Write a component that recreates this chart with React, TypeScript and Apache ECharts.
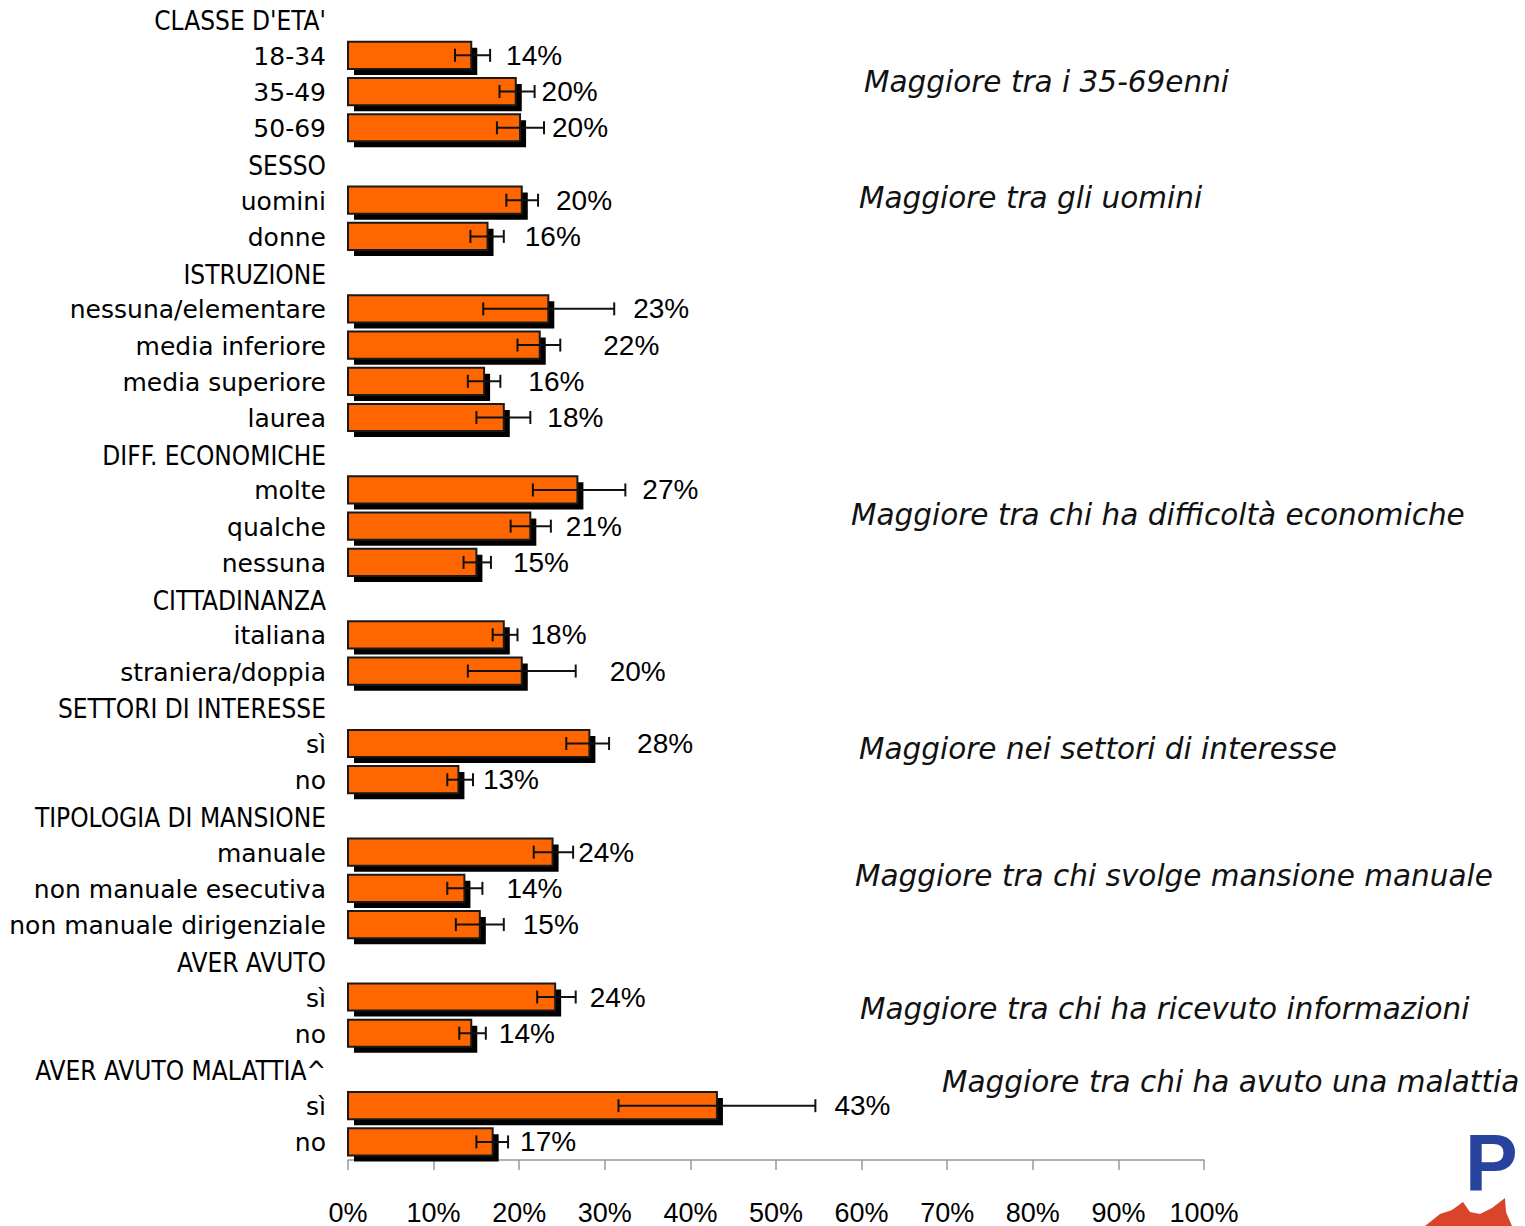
import React, { useEffect, useRef } from "react";
import * as echarts from "echarts";

const categories = [
  "CLASSE D'ETA'", "18-34", "35-49", "50-69",
  "SESSO", "uomini", "donne",
  "ISTRUZIONE", "nessuna/elementare", "media inferiore", "media superiore", "laurea",
  "DIFF. ECONOMICHE", "molte", "qualche", "nessuna",
  "CITTADINANZA", "italiana", "straniera/doppia",
  "SETTORI DI INTERESSE", "sì", "no",
  "TIPOLOGIA DI MANSIONE", "manuale", "non manuale esecutiva", "non manuale dirigenziale",
  "AVER AVUTO", "sì", "no",
  "AVER AVUTO MALATTIA^", "sì", "no",
];

const values = [null, 14.4, 19.6, 20.1, null, 20.3, 16.3, null, 23.4, 22.4, 15.9, 18.2, null, 26.8, 21.3, 15.0, null, 18.2, 20.3, null, 28.2, 12.9, null, 23.9, 13.6, 15.4, null, 24.2, 14.4, null, 43.1, 16.9];
const lows = [null, 12.5, 17.7, 17.4, null, 18.5, 14.3, null, 15.8, 19.8, 14.0, 15.0, null, 21.6, 19.0, 13.5, null, 16.9, 14.0, null, 25.5, 11.6, null, 21.7, 11.6, 12.6, null, 22.1, 13.0, null, 31.6, 15.0];
const highs = [null, 16.6, 21.8, 22.9, null, 22.2, 18.2, null, 31.1, 24.8, 17.8, 21.3, null, 32.4, 23.7, 16.7, null, 19.8, 26.6, null, 30.5, 14.6, null, 26.3, 15.7, 18.2, null, 26.6, 16.1, null, 54.6, 18.7];

const xTicks = { min: 0, max: 100, interval: 10 };

const annotations = [
  { text: "Maggiore tra i 35-69enni", x: 864, y: 82 },
  { text: "Maggiore tra gli uomini", x: 859, y: 198 },
  { text: "Maggiore tra chi ha difficoltà economiche", x: 851, y: 515 },
  { text: "Maggiore nei settori di interesse", x: 859, y: 749 },
  { text: "Maggiore tra chi svolge mansione manuale", x: 855, y: 876 },
  { text: "Maggiore tra chi ha ricevuto informazioni", x: 860, y: 1009 },
  { text: "Maggiore tra chi ha avuto una malattia", x: 942, y: 1082 },
];

// label horizontal nudges (px) after the error-bar end (style only)
const labelDx = [0, 16, 7, 8, 0, 18, 21, 0, 19, 43, 28, 17, 0, 17, 15, 22, 0, 13, 34, 0, 28, 10, 0, 5, 24, 19, 0, 14, 13, 0, 19, 12];

export default function App() {
  const ref = useRef<HTMLDivElement>(null);
  useEffect(() => {
    if (!ref.current) return;
    const chart = echarts.init(ref.current, null, { renderer: "svg" });
    const data: any[] = [];
    values.forEach((v, i) => {
      if (v !== null) data.push([i, v, lows[i], highs[i], labelDx[i]]);
    });
    const option: any = {
      animation: false,
      backgroundColor: "#ffffff",
      grid: { left: 348, right: 321, top: 1, height: 1159, containLabel: false },
      xAxis: {
        type: "value",
        min: xTicks.min,
        max: xTicks.max,
        interval: xTicks.interval,
        splitLine: { show: false },
        axisLine: { show: true, lineStyle: { color: "#999999", width: 1.5 } },
        axisTick: { show: true, length: 10, lineStyle: { color: "#999999", width: 1.5 } },
        axisLabel: {
          formatter: "{value}%",
          margin: 39,
          color: "#000000",
          fontFamily: "Liberation Sans",
          fontSize: 27,
        },
      },
      yAxis: {
        type: "category",
        inverse: true,
        data: categories.map((_, i) => "r" + i),
        axisLine: { show: false },
        axisTick: { show: false },
        splitLine: { show: false },
        axisLabel: {
          interval: 0,
          margin: 22,
          color: "#000000",
          formatter: (_v: string, idx: number) =>
            values[idx] === null ? `{h|${categories[idx]}}` : `{i|${categories[idx]}}`,
          rich: {
            h: { fontFamily: "'Liberation Sans Narrow', 'DejaVu Sans Condensed', 'Liberation Sans'", fontSize: 26, color: "#000", padding: [4, 0, 0, 0] },
            i: { fontFamily: "'DejaVu Sans'", fontSize: 25, color: "#000", padding: [2, 0, 0, 0] },
          },
        },
      },
      series: [
        {
          type: "custom",
          encode: { x: 1, y: 0 },
          data,
          renderItem: (params: any, api: any) => {
            const yi = api.value(0);
            const v = api.value(1);
            const lo = api.value(2);
            const hi = api.value(3);
            const dx = api.value(4);
            const s = api.coord([0, yi]);
            const e = api.coord([v, yi]);
            const pLo = api.coord([lo, yi]);
            const pHi = api.coord([hi, yi]);
            const band = api.size([0, 1])[1];
            const h = band * 0.75;
            const cy = s[1];
            const capH = 13;
            return {
              type: "group",
              children: [
                {
                  type: "rect",
                  shape: { x: s[0] + 6, y: cy - h / 2 + 6, width: e[0] - s[0], height: h },
                  style: { fill: "#000000" },
                },
                {
                  type: "rect",
                  shape: { x: s[0], y: cy - h / 2, width: e[0] - s[0], height: h },
                  style: { fill: "#FF6600", stroke: "#1a1a1a", lineWidth: 2 },
                },
                {
                  type: "line",
                  shape: { x1: pLo[0], y1: cy, x2: pHi[0], y2: cy },
                  style: { stroke: "#111111", lineWidth: 2 },
                },
                {
                  type: "line",
                  shape: { x1: pLo[0], y1: cy - capH / 2, x2: pLo[0], y2: cy + capH / 2 },
                  style: { stroke: "#111111", lineWidth: 2 },
                },
                {
                  type: "line",
                  shape: { x1: pHi[0], y1: cy - capH / 2, x2: pHi[0], y2: cy + capH / 2 },
                  style: { stroke: "#111111", lineWidth: 2 },
                },
                {
                  type: "text",
                  style: {
                    x: pHi[0] + dx,
                    y: cy,
                    text: Math.round(v) + "%",
                    fill: "#000000",
                    fontFamily: "Liberation Sans",
                    fontSize: 28,
                    align: "left",
                    verticalAlign: "middle",
                  },
                },
              ],
            };
          },
        },
      ],
      graphic: [
        ...annotations.map((a) => ({
          type: "text",
          left: a.x,
          top: a.y - 15,
          style: {
            text: a.text,
            fill: "#111111",
            fontFamily: "DejaVu Sans",
            fontStyle: "italic",
            fontSize: 29.5,
          },
        })),
        {
          type: "polygon",
          shape: {
            points: [
              [1425, 1226], [1440, 1214], [1452, 1210], [1463, 1202], [1470, 1212],
              [1480, 1214], [1492, 1208], [1505, 1198], [1506, 1212], [1512, 1226],
            ],
          },
          style: { fill: "#d9452a" },
        },
        {
          type: "text",
          left: 1465,
          top: 1123,
          style: {
            text: "P",
            fontFamily: "Liberation Sans",
            fontWeight: "bold",
            fontSize: 79,
            fill: "#27439e",
          },
        },
      ],
    };
    chart.setOption(option);
    return () => chart.dispose();
  }, []);
  return (
    <div
      ref={ref}
      style={{ position: "absolute", left: 0, top: 0, width: 1525, height: 1226 }}
    />
  );
}
